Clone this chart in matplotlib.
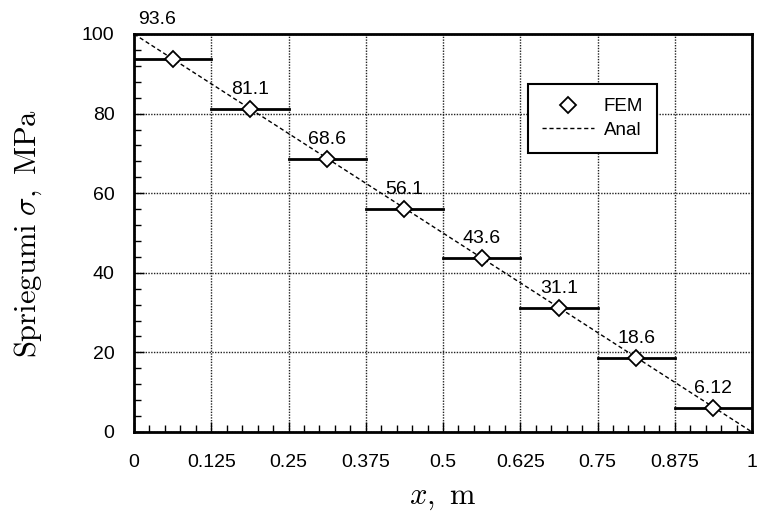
import numpy as np
import matplotlib.pyplot as plt
from matplotlib.ticker import MultipleLocator

plt.rcParams['font.family'] = ['Liberation Sans', 'DejaVu Sans']
plt.rcParams['mathtext.fontset'] = 'cm'

n_el = 8
x_nodes = np.linspace(0, 1, n_el + 1)
fem = [93.6, 81.1, 68.6, 56.1, 43.6, 31.1, 18.6, 6.12]
fem_labels = ["93.6", "81.1", "68.6", "56.1", "43.6", "31.1", "18.6", "6.12"]
anal_x = [0, 1]
anal_y = [100, 0]

x_mid = (x_nodes[:-1] + x_nodes[1:]) / 2

fig = plt.figure(figsize=(7.57, 5.17), dpi=100)
ax = fig.add_axes([134 / 757, 1 - 432 / 517, 618 / 757, 398 / 517])

for i in range(n_el):
    ax.plot([x_nodes[i], x_nodes[i + 1]], [fem[i], fem[i]], color="black", lw=2, zorder=3)

ax.plot(x_mid, fem, linestyle="none", marker="D", markersize=8.5, markerfacecolor="white",
        markeredgecolor="black", markeredgewidth=1.3, label="FEM", zorder=4)
ax.plot(anal_x, anal_y, color="black", linestyle=(0, (3, 2)), lw=1, label="Anal", zorder=3)

for i, (xm, v) in enumerate(zip(x_mid, fem)):
    off = (-11, 23) if i == 0 else (0, 8)
    ax.annotate(fem_labels[i], (xm, v), xytext=off, textcoords="offset points",
                ha="center", va="bottom", fontsize=14, annotation_clip=False)

ax.set_xlim(0, 1)
ax.set_ylim(0, 100)
ax.set_xticks(x_nodes)
ax.set_xticklabels(["0", "0.125", "0.25", "0.375", "0.5", "0.625", "0.75", "0.875", "1"])
ax.xaxis.set_minor_locator(MultipleLocator(0.025))
ax.yaxis.set_major_locator(MultipleLocator(20))
ax.yaxis.set_minor_locator(MultipleLocator(4))
ax.tick_params(which="both", direction="in", labelsize=14)
ax.tick_params(which="major", length=7, width=1)
ax.tick_params(which="minor", length=5, width=1)
ax.tick_params(axis="x", pad=16)
ax.tick_params(axis="y", pad=14)
ax.grid(True, which="major", color="#222222", linestyle=(0, (1, 1)), lw=1)
for s in ax.spines.values():
    s.set_linewidth(2)

ax.set_xlabel(r"$x,\ \mathrm{m}$", fontsize=22, labelpad=8)
ax.set_ylabel(r"$\mathrm{Spriegumi}\ \sigma,\ \mathrm{MPa}$", fontsize=22, labelpad=27)

leg = ax.legend(loc="upper left", bbox_to_anchor=(0.637, 0.874), borderaxespad=0,
                fontsize=13.5, fancybox=False, framealpha=1, edgecolor="black",
                handlelength=2.8, borderpad=0.75, labelspacing=0.35, handletextpad=0.5)
leg.get_frame().set_linewidth(1.5)

plt.savefig("out.png", dpi=100)
